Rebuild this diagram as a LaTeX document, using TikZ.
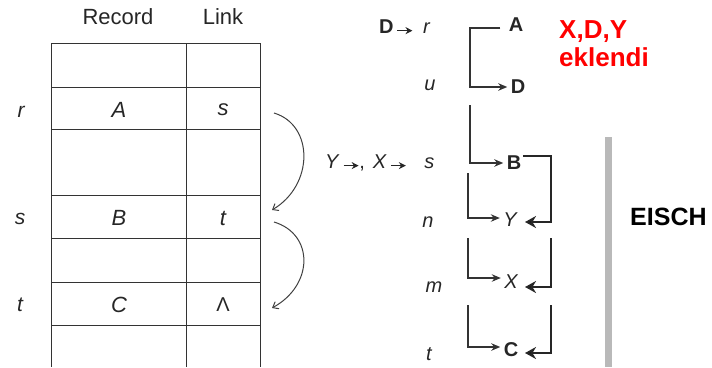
\documentclass[tikz,border=0pt]{standalone}
\usepackage{fontspec}
\setmainfont{Liberation Sans}
\usetikzlibrary{arrows.meta}
\newcommand{\smallarr}{\tikz[baseline=0pt]\draw[line width=1.3pt,-{Stealth[length=7pt,width=7pt]}] (0,3pt) -- (15pt,3pt);}
\begin{document}
\begin{tikzpicture}[x=1pt,y=-1pt,
  tbl/.style={draw=black!80, line width=1pt},
  hdr/.style={font=\fontsize{22}{24}\selectfont, text=black!85},
  cell/.style={font=\fontsize{22}{24}\selectfont\itshape, text=black!85},
  lbl/.style={font=\fontsize{21}{23}\selectfont\itshape, text=black!85},
  rlbl/.style={font=\fontsize{20}{22}\selectfont\itshape, text=black!85},
  bld/.style={font=\fontsize{20}{22}\selectfont\bfseries, text=black!85},
  thin/.style={draw=black!80, line width=1.2pt, -{Stealth[length=9pt,width=7.5pt]}},
  thick/.style={draw=black!85, line width=2.6pt, -{Stealth[length=11pt,width=12pt]}},
  curve/.style={draw=black!75, line width=1pt, -{Straight Barb[length=5pt,width=8pt]}},
  red/.style={font=\fontsize{26}{30}\selectfont\bfseries, text=red, align=left},
]
\useasboundingbox (0,0) rectangle (712,367);
% table
\foreach \yy in {43,87,129,195,238,282,325}
  \draw[tbl] (51,\yy) -- (260,\yy);
\foreach \xx in {51,186,260}
  \draw[tbl] (\xx,43) -- (\xx,367);
\node[hdr] (hrec) at (118,17) {Record};
\node[hdr] (hlink) at (223,17) {Link};
\node[lbl] (lr) at (21,112) {r};
\node[lbl] (ls) at (20,219) {s};
\node[lbl] (lt) at (20,305) {t};
\node[cell] (cA) at (119,110) {A};
\node[cell] (cs) at (223,110) {s};
\node[cell] (cB) at (119,218) {B};
\node[cell] (ct) at (223,218) {t};
\node[cell] (cC) at (119,305) {C};
\node[font=\fontsize{20}{22}\selectfont, text=black!85] (cL) at (223,305) {Λ};
% curved arrows
\coordinate (c1s) at (274,113);
\coordinate (c1e) at (272,210);
\coordinate (c2s) at (274,222);
\coordinate (c2e) at (272,308);
\draw[curve] (c1s) .. controls (314,125) and (314,185) .. (c1e);
\draw[curve] (c2s) .. controls (314,234) and (314,285) .. (c2e);
% right side labels
\node[anchor=east, font=\fontsize{20}{22}\selectfont, text=black!85] (tr) at (434,27) {\textbf{D}\,\smallarr\hspace{10pt}\textit{r}};
\node[rlbl] (tu) at (430,85) {u};
\node[anchor=east, font=\fontsize{20}{22}\selectfont, text=black!85] (ts) at (438,163) {\textit{Y}\,\smallarr,\hspace{8pt}\textit{X}\,\smallarr\hspace{18pt}\textit{s}};
\node[rlbl] (tn) at (428,222) {n};
\node[rlbl] (tm) at (434,287) {m};
\node[rlbl] (tt) at (429,354) {t};
\node[bld] (nA) at (516,25) {A};
\node[bld] (nD) at (518,87) {D};
\node[bld] (nB) at (514,163) {B};
\node[rlbl] (nY) at (510,220) {Y};
\node[rlbl] (nX) at (511,282) {X};
\node[bld] (nC) at (511,350) {C};
% thin brackets
\draw[thin] ([xshift=-5pt,yshift=-3pt]nA.west) -| (470,87) -- (nD.west);
\draw[thin] (470,105) |- (nB.west);
\draw[thin] (468,173) |- ([yshift=2pt]nY.west);
\draw[thin] (468,238) |- ([yshift=4pt]nX.west);
\draw[thin] (468,305) |- ([yshift=3pt]nC.west);
% thick arrows
\draw[thick] ([xshift=-2pt]nB.east |- 0,156) -- (551,156) -- (551,222) -- (525,222);
\draw[thick] (551,238) -- (551,287) -- (525,287);
\draw[thick] (551,305) -- (551,353) -- (525,353);
% red text
\node[red, anchor=north west, inner sep=0pt] (rt) at (559,20) {X,D,Y\\[-2pt]eklendi};
% bar
\fill[gray!55] (605,137) rectangle (612,367);
\node[font=\fontsize{25}{28}\selectfont\bfseries, anchor=west, inner sep=0pt] (eisch) at (630,217) {EISCH};
\end{tikzpicture}
\end{document}
